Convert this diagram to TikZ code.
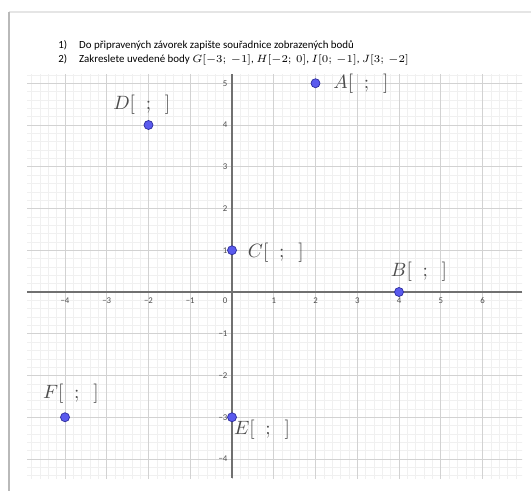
\documentclass[tikz,border=0pt]{standalone}
\usepackage{fontspec}
\setmainfont{Carlito}
\usetikzlibrary{positioning}
\definecolor{ptfill}{HTML}{5A5AEE}
\definecolor{ptline}{HTML}{2C2C9C}
\definecolor{axisgray}{HTML}{707070}
\tikzset{
  gminor/.style={draw=gray!12,line width=0.3pt},
  gmajor/.style={draw=gray!35,line width=0.5pt},
  gaxis/.style={draw=axisgray,line width=0.9pt},
  gtick/.style={font=\fontsize{5}{6}\selectfont,text=black!70,inner sep=1pt},
  gpoint/.style={circle,fill=ptfill,draw=ptline,line width=0.4pt,inner sep=0pt,minimum size=1.8mm},
  glabel/.style={font=\fontsize{10.5}{12}\selectfont,text=black!70,inner sep=1pt},
  qtext/.style={font=\fontsize{6.2}{7}\selectfont,anchor=west,inner sep=0pt}
}
\newcommand{\slot}[1]{$#1[\;\;;\;\;]$}

\begin{document}
\begin{tikzpicture}
  \useasboundingbox (0,0) rectangle (10.62,9.82);
  % page edge
  \draw[gray!20,line width=0.6pt] (0.18,9.58) -- (10.62,9.58);
  \draw[gray!55,line width=1.4pt] (0.18,9.58) -- (0.18,0);
  % task
  \node[qtext] (q1) at (1.16,8.92) {1)\hspace{1.1em}Do připravených závorek zapište souřadnice zobrazených bodů};
  \node[qtext] (q2) at (1.16,8.62) {2)\hspace{1.1em}Zakreslete uvedené body $G[-3;\,-1]$, $H[-2;\,0]$, $I[0;\,-1]$, $J[3;\,-2]$};
  \begin{scope}[shift={(4.64,3.98)},x=0.835cm,y=0.835cm]
    \begin{scope}
      \clip (-4.91,-4.46) rectangle (6.95,5.22);
      \draw[gminor,step=0.2] (-5,-5) grid (7,6);
      \draw[gmajor,step=1] (-5,-5) grid (7,6);
      \foreach \x in {1,...,5}
        \node[gtick,anchor=north] (xm\x) at (-\x,-0.08) {−\x};
    \end{scope}
    \draw[gaxis] (-4.91,0) -- (6.95,0);
    \draw[gaxis] (0,-4.46) -- (0,5.22);
    \foreach \x in {1,...,6}
      \node[gtick,anchor=north] (xp\x) at (\x,-0.08) {\x};
    \foreach \y in {1,...,5}
      \node[gtick,anchor=east] (yp\y) at (-0.06,\y) {\y};
    \foreach \y in {1,...,4}
      \node[gtick,anchor=east] (ym\y) at (-0.06,-\y) {−\y};
    \node[gtick,anchor=north east] (o) at (-0.06,-0.08) {0};
    % points
    \node[gpoint] (pA) at (2,5) {};
    \node[gpoint] (pB) at (4,0) {};
    \node[gpoint] (pC) at (0,1) {};
    \node[gpoint] (pD) at (-2,4) {};
    \node[gpoint] (pE) at (0,-3) {};
    \node[gpoint] (pF) at (-4,-3) {};
    \node[glabel,anchor=west] (lA) at (2.38,5) {\slot{A}};
    \node[glabel] (lB) at (4.48,0.48) {\slot{B}};
    \node[glabel,anchor=west] (lC) at (0.33,0.95) {\slot{C}};
    \node[glabel] (lD) at (-2.16,4.48) {\slot{D}};
    \node[glabel] (lE) at (0.72,-3.3) {\slot{E}};
    \node[glabel] (lF) at (-3.86,-2.44) {\slot{F}};
  \end{scope}
\end{tikzpicture}
\end{document}
